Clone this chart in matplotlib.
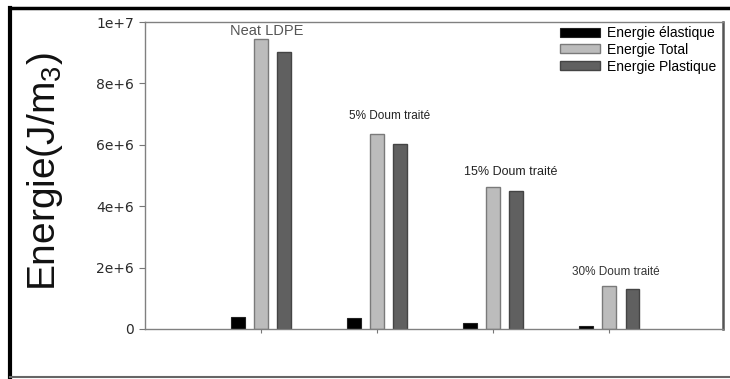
import numpy as np
import matplotlib
matplotlib.use("Agg")
import matplotlib.pyplot as plt
from matplotlib.lines import Line2D

plt.rcParams['font.family'] = ['Liberation Sans', 'DejaVu Sans']
plt.rcParams['mathtext.fontset'] = 'custom'
plt.rcParams['mathtext.rm'] = 'Liberation Sans'

# Data (J/m3)
groups = ['Neat LDPE', '5% Doum traité', '15% Doum traité', '30% Doum traité']
elastique = [0.40e6, 0.37e6, 0.20e6, 0.10e6]
total = [9.45e6, 6.35e6, 4.63e6, 1.40e6]
plastique = [9.02e6, 6.02e6, 4.48e6, 1.31e6]
series_names = ['Energie élastique', 'Energie Total', 'Energie Plastique']
ytick_values = [0, 2e6, 4e6, 6e6, 8e6, 1e7]
ytick_labels = ['0', '2e+6', '4e+6', '6e+6', '8e+6', '1e+7']

fig = plt.figure(figsize=(7.3, 3.79), dpi=100)
ax = fig.add_axes([145 / 730, 50 / 379, 578 / 730, 307 / 379])

x = np.arange(1, len(groups) + 1)
w = 0.12
ax.bar(x - 0.2, elastique, w, color='black', edgecolor='#222222', lw=0.8,
       label=series_names[0])
ax.bar(x, total, w, color='#bcbcbc', edgecolor='#7a7a7a', lw=1.0,
       label=series_names[1])
ax.bar(x + 0.2, plastique, w, color='#606060', edgecolor='#444444', lw=1.0,
       label=series_names[2])

ax.set_xlim(0, 4.98)
ax.set_ylim(0, 1e7)
ax.set_yticks(ytick_values)
ax.set_yticklabels(ytick_labels, fontsize=10, color='#2a2a2a', family='DejaVu Sans')
ax.set_xticks(x)
ax.set_xticklabels([])
ax.tick_params(axis='y', length=4, width=0.8, color='#777777', pad=4)
ax.tick_params(axis='x', length=3, width=0.8, color='#777777')

for side in ['left', 'bottom', 'top']:
    ax.spines[side].set_color('#808080')
    ax.spines[side].set_linewidth(1.0)
ax.spines['right'].set_color('#555555')
ax.spines['right'].set_linewidth(1.8)

# group annotations
label_pos = [(1.05, 9.7e6), (2.11, 6.94e6), (3.15, 5.11e6), (4.06, 1.86e6)]
label_size = [10.5, 8.5, 9, 8.5]
label_color = ['#555555', '#222222', '#222222', '#333333']
for g, (lx, ly), fs, c in zip(groups, label_pos, label_size, label_color):
    ax.text(lx, ly, g, ha='center', va='center', fontsize=fs, color=c)

fig.text(45 / 730, 1 - 172 / 379, r'Energie(J/m$_{\mathrm{3}}$)', rotation=90,
         ha='center', va='center', fontsize=28, color='#111111')

ax.legend(loc='upper left', bbox_to_anchor=(560 / 730, 1 - 26 / 379),
          bbox_transform=fig.transFigure, frameon=False, fontsize=10,
          handlelength=2.9, handleheight=0.6, labelspacing=0.2,
          handletextpad=0.5, borderpad=0, borderaxespad=0)

# outer frame of the figure
fig.add_artist(Line2D([10 / 730, 1], [1 - 8 / 379, 1 - 8 / 379], color='black', lw=2.5))
fig.add_artist(Line2D([10 / 730, 10 / 730], [1 - 8 / 379, 0], color='black', lw=3))
fig.add_artist(Line2D([10 / 730, 1], [2 / 379, 2 / 379], color='#666666', lw=1.5))

fig.savefig('out.png', dpi=100)
